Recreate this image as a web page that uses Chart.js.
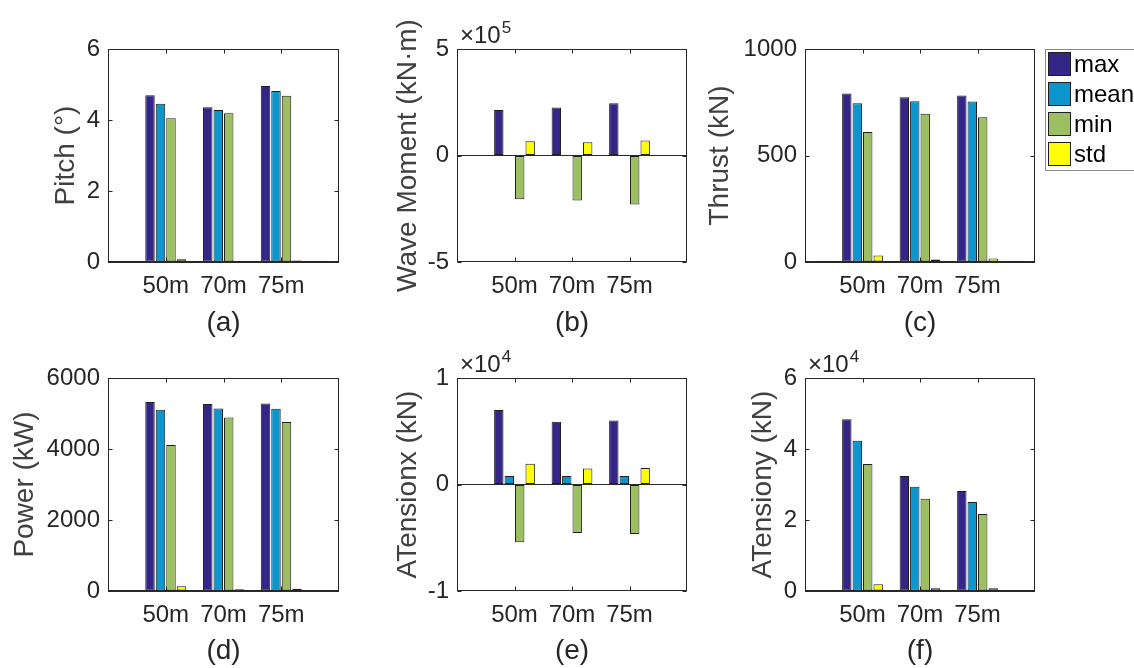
<!DOCTYPE html>
<html>
<head>
<meta charset="utf-8">
<script src="https://cdn.jsdelivr.net/npm/chart.js@4.4.1/dist/chart.umd.min.js"></script>
<style>
html, body { margin:0; padding:0; background:#fff; width:1134px; height:668px; overflow:hidden; position:relative; }
canvas { position:absolute; }
</style>
</head>
<body>
<script>
// ---------------- data ----------------
const categories = ['50m', '70m', '75m'];
const seriesNames = ['max', 'mean', 'min', 'std'];
const seriesColors = ['#342687', '#0b96d0', '#9cbf62', '#fdfd05'];

// (a) Pitch (deg)
const pitchMax  = [4.70, 4.36, 4.96];
const pitchMean = [4.46, 4.28, 4.82];
const pitchMin  = [4.05, 4.19, 4.68];
const pitchStd  = [0.08, 0.02, 0.04];
const pitchTicks = [0, 2, 4, 6];

// (b) Wave Moment (kN*m)
const waveMax  = [214000, 225000, 245000];
const waveMean = [600, 500, 600];
const waveMin  = [-205000, -211000, -230000];
const waveStd  = [67000, 62000, 70000];
const waveTicks = [-5, 0, 5];      // x 10^5

// (c) Thrust (kN)
const thrustMax  = [791, 774, 782];
const thrustMean = [745, 755, 754];
const thrustMin  = [610, 696, 680];
const thrustStd  = [30, 12, 16];
const thrustTicks = [0, 500, 1000];

// (d) Power (kW)
const powerMax  = [5323, 5270, 5285];
const powerMean = [5107, 5140, 5135];
const powerMin  = [4115, 4890, 4759];
const powerStd  = [132, 47, 60];
const powerTicks = [0, 2000, 4000, 6000];

// (e) ATensionx (kN)
const tensionxMax  = [6990, 5890, 6020];
const tensionxMean = [790, 800, 800];
const tensionxMin  = [-5420, -4550, -4640];
const tensionxStd  = [1940, 1500, 1540];
const tensionxTicks = [-1, 0, 1];  // x 10^4

// (f) ATensiony (kN)
const tensionyMax  = [48400, 32400, 28200];
const tensionyMean = [42300, 29400, 25100];
const tensionyMin  = [35800, 26000, 21700];
const tensionyStd  = [1900, 750, 750];
const tensionyTicks = [0, 2, 4, 6]; // x 10^4

// ---------------- styling / layout ----------------
const FONT = '"Liberation Sans", Arial, Helvetica, sans-serif';
Chart.defaults.font.family = FONT;
const TICK_SIZE = 24, TITLE_SIZE = 28, LH = 1.2;
const AX_COLOR = '#262626';

const panels = [
  { yTitle: 'Pitch (°)', label: '(a)', series: [pitchMax, pitchMean, pitchMin, pitchStd], ticks: pitchTicks, exp: 0,
    cx: 0, cy: 0, cw: 370, ch: 340, L: 108, T: 49, R: 339, B: 262, yTitleX: 66, xTitleY: 325 },
  { yTitle: 'Wave Moment (kN·m)', label: '(b)', series: [waveMax, waveMean, waveMin, waveStd], ticks: waveTicks, exp: 5,
    cx: 370, cy: 0, cw: 320, ch: 340, L: 457, T: 49, R: 687, B: 262, yTitleX: 408, xTitleY: 325 },
  { yTitle: 'Thrust (kN)', label: '(c)', series: [thrustMax, thrustMean, thrustMin, thrustStd], ticks: thrustTicks, exp: 0,
    cx: 690, cy: 0, cw: 444, ch: 340, L: 805, T: 49, R: 1035, B: 262, yTitleX: 720, xTitleY: 325, legend: true },
  { yTitle: 'Power (kW)', label: '(d)', series: [powerMax, powerMean, powerMin, powerStd], ticks: powerTicks, exp: 0,
    cx: 0, cy: 340, cw: 370, ch: 328, L: 108, T: 378, R: 339, B: 591, yTitleX: 25, xTitleY: 652 },
  { yTitle: 'ATensionx (kN)', label: '(e)', series: [tensionxMax, tensionxMean, tensionxMin, tensionxStd], ticks: tensionxTicks, exp: 4,
    cx: 370, cy: 340, cw: 320, ch: 328, L: 457, T: 378, R: 687, B: 591, yTitleX: 408, xTitleY: 652 },
  { yTitle: 'ATensiony (kN)', label: '(f)', series: [tensionyMax, tensionyMean, tensionyMin, tensionyStd], ticks: tensionyTicks, exp: 4,
    cx: 690, cy: 340, cw: 444, ch: 328, L: 805, T: 378, R: 1035, B: 591, yTitleX: 763, xTitleY: 652 }
];

// MATLAB-like box, inward ticks, exponent label and figure legend
const matlabAxes = {
  id: 'matlabAxes',
  afterDraw(chart, args, opts) {
    const { ctx, chartArea: { left, top, right, bottom } } = chart;
    ctx.save();
    ctx.strokeStyle = AX_COLOR;
    ctx.lineWidth = 1;
    const l = Math.round(left) + 0.5, r = Math.round(right) - 0.5;
    const t = Math.round(top) + 0.5, b = Math.round(bottom) - 0.5;
    ctx.strokeRect(l, t, r - l, b - t);
    const TL = 4;
    ctx.beginPath();
    chart.scales.y.ticks.forEach(tk => {
      const py = Math.round(chart.scales.y.getPixelForValue(tk.value)) + 0.5;
      ctx.moveTo(l, py); ctx.lineTo(l + TL, py);
      ctx.moveTo(r, py); ctx.lineTo(r - TL, py);
    });
    chart.scales.x.ticks.forEach(tk => {
      const px = Math.round(chart.scales.x.getPixelForValue(tk.value)) + 0.5;
      ctx.moveTo(px, b); ctx.lineTo(px, b - TL);
      ctx.moveTo(px, t); ctx.lineTo(px, t + TL);
    });
    ctx.stroke();

    if (opts.exp) {
      ctx.fillStyle = AX_COLOR;
      ctx.textBaseline = 'alphabetic';
      ctx.textAlign = 'left';
      ctx.font = TICK_SIZE + 'px ' + FONT;
      const base = '×10';
      ctx.fillText(base, left + 3, top - 6);
      const w = ctx.measureText(base).width;
      ctx.font = '17px ' + FONT;
      ctx.fillText(String(opts.exp), left + 3 + w + 1, top - 16);
    }

    if (opts.legend) {
      const lx = Math.round(right) + 10, ly = Math.round(top);
      ctx.strokeStyle = '#8a8a8a';
      ctx.strokeRect(lx + 0.5, ly + 0.5, 200, 121);
      ctx.font = TICK_SIZE + 'px ' + FONT;
      ctx.textBaseline = 'middle';
      ctx.textAlign = 'left';
      chart.data.datasets.forEach((ds, k) => {
        const sy = ly + 3 + 30 * k;
        ctx.fillStyle = ds.backgroundColor;
        ctx.fillRect(lx + 3, sy, 23, 24);
        ctx.strokeStyle = '#1e1e1e';
        ctx.strokeRect(lx + 3.5, sy + 0.5, 22, 23);
        ctx.fillStyle = '#000';
        ctx.fillText(ds.label, lx + 29, sy + 13);
      });
    }
    ctx.restore();
  }
};

function makePanel(p) {
  const c = document.createElement('canvas');
  c.width = p.cw; c.height = p.ch;
  c.style.left = p.cx + 'px'; c.style.top = p.cy + 'px';
  c.style.width = p.cw + 'px'; c.style.height = p.ch + 'px';
  document.body.appendChild(c);
  const mult = Math.pow(10, p.exp || 0);
  const datasets = seriesNames.map((name, k) => ({
    label: name,
    data: p.series[k].map((v, i) => ({ x: i + 1, y: v })),
    backgroundColor: seriesColors[k],
    borderColor: '#1e1e1e',
    borderWidth: 1,
    borderSkipped: false,
    categoryPercentage: 4 / 5.5,
    barPercentage: 0.9
  }));
  new Chart(c, {
    type: 'bar',
    data: { datasets },
    options: {
      responsive: false,
      animation: false,
      devicePixelRatio: 1,
      layout: { padding: { left: 0, top: p.T - p.cy, right: p.cx + p.cw - p.R, bottom: 0 } },
      plugins: {
        legend: { display: false },
        tooltip: { enabled: false },
        matlabAxes: { exp: p.exp, legend: !!p.legend }
      },
      scales: {
        x: {
          type: 'linear', min: 0, max: 4, offset: false,
          afterFit: s => { s.height = p.cy + p.ch - p.B; },
          afterBuildTicks: s => { s.ticks = categories.map((_, i) => ({ value: i + 1 })); },
          ticks: {
            callback: v => categories[v - 1] || '',
            font: { size: TICK_SIZE, lineHeight: LH }, color: AX_COLOR,
            padding: 10, maxRotation: 0, autoSkip: false
          },
          grid: { display: false, drawTicks: false },
          border: { display: false },
          title: {
            display: true, text: p.label, color: AX_COLOR,
            font: { size: TITLE_SIZE, lineHeight: LH },
            padding: { top: 0, bottom: Math.max(0, p.cy + p.ch - p.xTitleY - TITLE_SIZE * LH / 2) }
          }
        },
        y: {
          min: p.ticks[0] * mult, max: p.ticks[p.ticks.length - 1] * mult,
          afterFit: s => { s.width = p.L - p.cx; },
          afterBuildTicks: s => { s.ticks = p.ticks.map(v => ({ value: v * mult })); },
          ticks: {
            callback: v => String(+(v / mult).toFixed(3)),
            font: { size: TICK_SIZE, lineHeight: LH }, color: AX_COLOR,
            padding: 8, autoSkip: false
          },
          grid: {
            display: true, drawTicks: false, lineWidth: 1,
            color: ctx => (ctx.tick && ctx.tick.value === 0) ? '#2a2a2a' : 'rgba(0,0,0,0)'
          },
          border: { display: false },
          title: {
            display: true, text: p.yTitle, color: '#404040',
            font: { size: TITLE_SIZE, lineHeight: LH },
            padding: { top: p.yTitleX - p.cx - TITLE_SIZE * LH / 2, bottom: 0 }
          }
        }
      }
    },
    plugins: [matlabAxes]
  });
}

panels.forEach(makePanel);
</script>
</body>
</html>
